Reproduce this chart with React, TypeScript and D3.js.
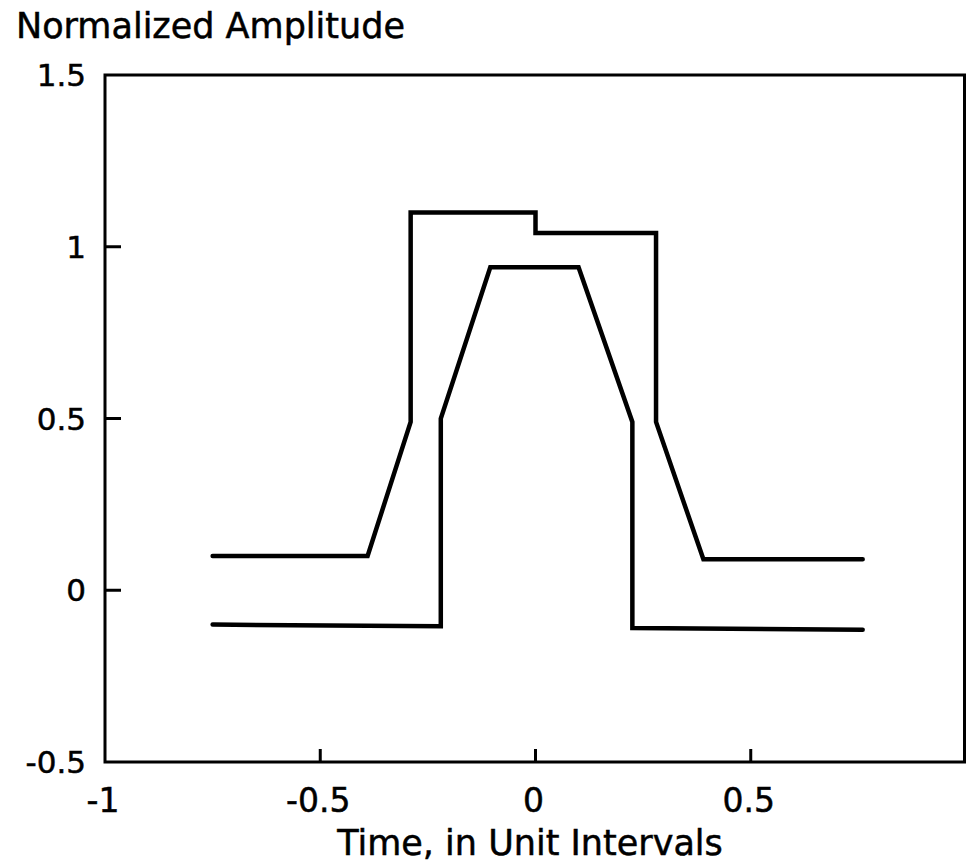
import React from "react";
import * as d3 from "d3";

// Upper trace: slew-limited edges, overshoot with a droop step at t = 0
const upperTime = [-0.75, -0.39, -0.29, -0.29, 0, 0, 0.28, 0.28, 0.39, 0.76];
const upperAmp = [0.1, 0.1, 0.49, 1.1, 1.1, 1.04, 1.04, 0.49, 0.09, 0.09];

// Lower trace: sharp edges rising through 0.5, flat top below unity
const lowerTime = [-0.75, -0.22, -0.22, -0.105, 0.1, 0.225, 0.225, 0.76];
const lowerAmp = [-0.1, -0.105, 0.5, 0.94, 0.94, 0.49, -0.11, -0.115];

const xTicks = [-1, -0.5, 0, 0.5, 1];
const xTickLabels = ["-1", "-0.5", "0", "0.5", "1"];
const yTicks = [-0.5, 0, 0.5, 1, 1.5];
const yTickLabels = ["-0.5", "0", "0.5", "1", "1.5"];

const yTitle = "Normalized Amplitude";
const xTitle = "Time, in Unit Intervals";

const W = 966;
const H = 867;
const FONT = "'DejaVu Sans', 'Liberation Sans', Arial, sans-serif";

export default function App() {
  const x = d3.scaleLinear().domain([-1, 1]).range([105, 966]);
  const y = d3.scaleLinear().domain([-0.5, 1.5]).range([762, 75]);

  const line = d3
    .line<[number, number]>()
    .x((d) => x(d[0]))
    .y((d) => y(d[1]));

  const upper = upperTime.map((t, i) => [t, upperAmp[i]] as [number, number]);
  const lower = lowerTime.map((t, i) => [t, lowerAmp[i]] as [number, number]);

  const [x0, x1] = x.range();
  const [yb, yt] = y.range();

  const textStyle = {
    fontFamily: FONT,
    fill: "#000",
    stroke: "#000",
    strokeWidth: 0.5,
  } as const;

  return (
    <svg
      width={W}
      height={H}
      viewBox={`0 0 ${W} ${H}`}
      style={{ position: "absolute", left: 0, top: 0, background: "#fff", display: "block" }}
    >
      {/* frame */}
      <path
        d={`M${x0},${yt}H${x1 - 1.5}V${yb}M${x0},${yt}V${yb}H${x1}`}
        fill="none"
        stroke="#000"
        strokeWidth={3}
        strokeLinecap="square"
      />

      {/* y ticks, drawn inward */}
      {yTicks.map((v, i) => (
        <g key={"y" + i}>
          {v > -0.5 && v < 1.5 && (
            <line x1={x0} x2={x0 + 16} y1={y(v)} y2={y(v)} stroke="#000" strokeWidth={3} />
          )}
          <text x={86} y={y(v) + 11} textAnchor="end" fontSize={31} style={textStyle}>
            {yTickLabels[i]}
          </text>
        </g>
      ))}

      {/* x ticks, drawn inward */}
      {xTicks.map((v, i) => (
        <g key={"x" + i}>
          {v > -1 && v < 1 && (
            <line x1={x(v)} x2={x(v)} y1={yb} y2={yb - 13} stroke="#000" strokeWidth={3} />
          )}
          <text
            x={v === 1 ? x(v) + 8 : x(v) - 2}
            y={812}
            textAnchor="middle"
            fontSize={33}
            style={textStyle}
          >
            {xTickLabels[i]}
          </text>
        </g>
      ))}

      {/* traces */}
      <path d={line(upper) ?? ""} fill="none" stroke="#000" strokeWidth={4.5} strokeLinecap="round" strokeLinejoin="miter" />
      <path d={line(lower) ?? ""} fill="none" stroke="#000" strokeWidth={4.5} strokeLinecap="round" strokeLinejoin="miter" />

      {/* axis titles */}
      <text x={16} y={38} fontSize={35} style={textStyle}>
        {yTitle}
      </text>
      <text x={530} y={855} textAnchor="middle" fontSize={35} style={textStyle}>
        {xTitle}
      </text>
    </svg>
  );
}
